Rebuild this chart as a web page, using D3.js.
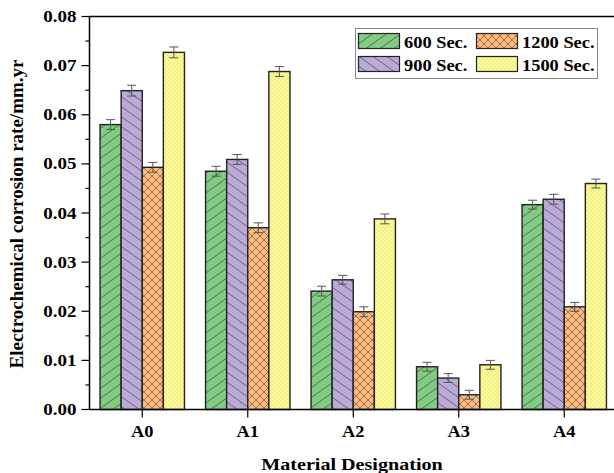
<!DOCTYPE html>
<html>
<head>
<meta charset="utf-8">
<script src="https://cdn.jsdelivr.net/npm/d3@7"></script>
<style>
  html, body { margin: 0; padding: 0; background: #fff; }
  svg { display: block; }
  text { font-family: "Liberation Serif", "Times New Roman", serif; font-weight: bold; fill: #000; }
</style>
</head>
<body>
<svg id="chart" width="614" height="473"></svg>
<script>
// Material samples on the x axis
const categories = ["A0", "A1", "A2", "A3", "A4"];
// Immersion times (legend entries)
const seriesNames = ["600 Sec.", "900 Sec.", "1200 Sec.", "1500 Sec."];
// Corrosion rate (mm/yr), one array per immersion time, ordered as categories
const rate600  = [0.0580, 0.0485, 0.0241, 0.0087, 0.0417];
const rate900  = [0.0649, 0.0509, 0.0264, 0.0064, 0.0428];
const rate1200 = [0.0493, 0.0370, 0.0199, 0.0030, 0.0209];
const rate1500 = [0.0727, 0.0688, 0.0388, 0.0091, 0.0460];
// Standard error for each bar
const err600  = [0.0010, 0.0010, 0.0010, 0.0009, 0.0009];
const err900  = [0.0011, 0.0010, 0.0009, 0.0009, 0.0010];
const err1200 = [0.0010, 0.0010, 0.0010, 0.0009, 0.0009];
const err1500 = [0.0011, 0.0010, 0.0010, 0.0009, 0.0009];
// Y axis tick values
const yTicks = [0.00, 0.01, 0.02, 0.03, 0.04, 0.05, 0.06, 0.07, 0.08];

const seriesValues = [rate600, rate900, rate1200, rate1500];
const seriesErrors = [err600, err900, err1200, err1500];

const svg = d3.select("#chart");
const plot = { left: 89.5, right: 617, top: 16.5, bottom: 409.5 };

const x = d3.scaleBand().domain(categories).range([plot.left, plot.right]).padding(0);
const groupW = x.bandwidth() * 0.8;
const x1 = d3.scaleBand().domain(seriesNames).range([-groupW / 2, groupW / 2]).padding(0);
const y = d3.scaleLinear().domain([0, 0.08]).range([plot.bottom, plot.top]);

// Fill patterns: hatched / cross-hatched / dotted
const defs = svg.append("defs");
const fills = ["#82cb82", "#bbaad8", "#fdbb80", "#fcfa94"];
const ink = "rgba(20,20,20,0.55)";

function pattern(id, bg, w, h, draw) {
  const p = defs.append("pattern").attr("id", id)
    .attr("patternUnits", "userSpaceOnUse").attr("width", w).attr("height", h);
  p.append("rect").attr("width", w).attr("height", h).attr("fill", bg);
  draw(p);
}
pattern("p0", fills[0], 14, 10, p => {
  p.append("path").attr("d", "M-14,10L14,-10M0,10L14,0M0,20L28,0")
    .attr("stroke", ink).attr("stroke-width", 0.9).attr("fill", "none");
});
pattern("p1", fills[1], 14, 10, p => {
  p.append("path").attr("d", "M0,0L14,10M-14,0L14,20M0,-10L28,10")
    .attr("stroke", ink).attr("stroke-width", 0.9).attr("fill", "none");
});
pattern("p2", fills[2], 8, 8, p => {
  p.append("path").attr("d", "M0,0L8,8M8,0L0,8")
    .attr("stroke", ink).attr("stroke-width", 0.8).attr("fill", "none");
});
pattern("p3", fills[3], 4, 4, p => {
  p.append("rect").attr("x", 0.5).attr("y", 0.5).attr("width", 1).attr("height", 1)
    .attr("fill", "rgba(150,140,60,0.4)");
  p.append("rect").attr("x", 2.5).attr("y", 2.5).attr("width", 1).attr("height", 1)
    .attr("fill", "rgba(150,140,60,0.4)");
});

// Top edge of the plot frame
svg.append("line").attr("x1", plot.left).attr("x2", plot.right)
  .attr("y1", plot.top).attr("y2", plot.top).attr("stroke", "#000").attr("stroke-width", 1.5);

// Bars
const bars = [];
categories.forEach((c, ci) => {
  seriesNames.forEach((s, si) => {
    bars.push({ c, s, si, v: seriesValues[si][ci], e: seriesErrors[si][ci] });
  });
});

const gBars = svg.append("g");
gBars.selectAll("rect").data(bars).join("rect")
  .attr("x", d => x(d.c) + x.bandwidth() / 2 + x1(d.s))
  .attr("y", d => y(d.v))
  .attr("width", x1.bandwidth())
  .attr("height", d => y(0) - y(d.v))
  .attr("fill", d => `url(#p${d.si})`)
  .attr("stroke", "#222").attr("stroke-width", 1.4);

// Error bars
const gErr = svg.append("g").attr("stroke", "#555").attr("stroke-width", 1).attr("fill", "none");
bars.forEach(d => {
  const cx = x(d.c) + x.bandwidth() / 2 + x1(d.s) + x1.bandwidth() / 2;
  const y1 = y(d.v + d.e), y2 = y(d.v - d.e);
  gErr.append("line").attr("x1", cx).attr("x2", cx).attr("y1", y1).attr("y2", y2);
  gErr.append("line").attr("x1", cx - 4.5).attr("x2", cx + 4.5).attr("y1", y1).attr("y2", y1);
  gErr.append("line").attr("x1", cx - 4.5).attr("x2", cx + 4.5).attr("y1", y2).attr("y2", y2);
});

// Horizontal stretch for horizontal labels
const SX = 1.15;

// Y axis: major ticks with labels, minor ticks between
const yAxis = svg.append("g");
yAxis.append("line").attr("x1", plot.left).attr("x2", plot.left)
  .attr("y1", plot.top).attr("y2", plot.bottom).attr("stroke", "#000").attr("stroke-width", 1.5);
const minor = d3.range(0.005, 0.08, 0.01);
yAxis.selectAll(".minor").data(minor).join("line").attr("class", "minor")
  .attr("x1", plot.left - 4).attr("x2", plot.left)
  .attr("y1", d => y(d)).attr("y2", d => y(d)).attr("stroke", "#000").attr("stroke-width", 1.2);
yAxis.selectAll(".major").data(yTicks).join("line").attr("class", "major")
  .attr("x1", plot.left - 8).attr("x2", plot.left)
  .attr("y1", d => y(d)).attr("y2", d => y(d)).attr("stroke", "#000").attr("stroke-width", 1.2);
yAxis.selectAll("text").data(yTicks).join("text")
  .attr("transform", d => `translate(${plot.left - 13},${y(d) + 5.5}) scale(${SX},1)`)
  .attr("text-anchor", "end").attr("font-size", 16.5)
  .text(d => d3.format(".2f")(d));

// X axis
const xAxis = svg.append("g");
xAxis.append("line").attr("x1", plot.left).attr("x2", plot.right)
  .attr("y1", plot.bottom).attr("y2", plot.bottom).attr("stroke", "#000").attr("stroke-width", 1.5);
xAxis.selectAll(".tick").data(categories).join("line").attr("class", "tick")
  .attr("x1", d => x(d) + x.bandwidth() / 2).attr("x2", d => x(d) + x.bandwidth() / 2)
  .attr("y1", plot.bottom).attr("y2", plot.bottom + 8).attr("stroke", "#000").attr("stroke-width", 1.2);
xAxis.selectAll("text").data(categories).join("text")
  .attr("transform", d => `translate(${x(d) + x.bandwidth() / 2},${437}) scale(${SX},1)`)
  .attr("text-anchor", "middle").attr("font-size", 16)
  .text(d => d);

// Axis titles
svg.append("text")
  .attr("transform", `translate(352,470) scale(${SX},1)`)
  .attr("text-anchor", "middle").attr("font-size", 17.5)
  .text("Material Designation");
svg.append("text")
  .attr("transform", "translate(23,214) rotate(-90)")
  .attr("text-anchor", "middle").attr("font-size", 19)
  .text("Electrochemical corrosion rate/mm.yr");

// Legend
const legend = svg.append("g");
legend.append("rect").attr("x", 355.5).attr("y", 28.5).attr("width", 242).attr("height", 50)
  .attr("fill", "#fff").attr("stroke", "#888").attr("stroke-width", 1);
const legPos = [[358, 33], [358, 56], [476, 33], [476, 56]];
seriesNames.forEach((s, i) => {
  const [lx, ly] = legPos[i];
  legend.append("rect").attr("x", lx + 0.5).attr("y", ly + 0.5).attr("width", 41).attr("height", 15)
    .attr("fill", `url(#p${i})`).attr("stroke", "#222").attr("stroke-width", 1.2);
  legend.append("text")
    .attr("transform", `translate(${lx + 46},${ly + 15}) scale(${SX},1)`)
    .attr("font-size", 16).text(s);
});
</script>
</body>
</html>
